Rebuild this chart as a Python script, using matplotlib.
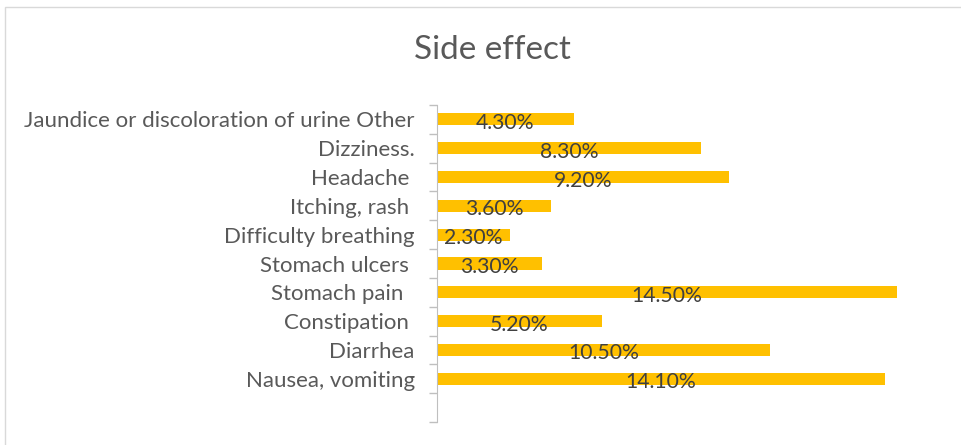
import matplotlib.pyplot as plt
from matplotlib.patches import Rectangle

plt.rcParams['font.family'] = ['Lato', 'DejaVu Sans']

# bottom to top
effects = ['Nausea, vomiting', 'Diarrhea', 'Constipation ', 'Stomach pain  ',
           'Stomach ulcers ', 'Difficulty breathing', 'Itching, rash ',
           'Headache ', 'Dizziness.', 'Jaundice or discoloration of urine Other']
percent = [14.1, 10.5, 5.2, 14.5, 3.3, 2.3, 3.6, 9.2, 8.3, 4.3]
labels = ['14.10%', '10.50%', '5.20%', '14.50%', '3.30%', '2.30%', '3.60%',
          '9.20%', '8.30%', '4.30%']

fig = plt.figure(figsize=(9.62, 4.45), dpi=100)
fig.patches.append(Rectangle((5 / 962, -0.01), 1.0, 1 - 7 / 445 + 0.01,
                             transform=fig.transFigure, fill=False,
                             edgecolor='#D9D9D9', linewidth=1))

ax = fig.add_axes([437 / 962, 1 - 422 / 445, (945 - 437) / 962, (422 - 105) / 445])
ypos = list(range(1, len(effects) + 1))
ax.barh(ypos, percent, height=0.42, color='#FFC000')
for y, v, t in zip(ypos, percent, labels):
    ax.text(v / 2, y - 0.12, t, ha='center', va='center', fontsize=15.2,
            color='#404040')

ax.set_xlim(0, 16)
ax.set_ylim(-0.5, len(effects) + 0.5)
ax.set_yticks(ypos)
ax.set_yticklabels(effects, fontsize=16, color='#595959')
ax.tick_params(axis='y', which='major', length=0, pad=16)
ax.set_yticks([i - 0.5 for i in range(len(effects) + 2)], minor=True)
ax.tick_params(axis='y', which='minor', length=6, color='#BFBFBF', width=1)
ax.set_xticks([])
for s in ['top', 'right', 'bottom']:
    ax.spines[s].set_visible(False)
ax.spines['left'].set_color('#BFBFBF')

fig.text(492 / 962, 1 - 50 / 445, 'Side effect', ha='center', va='center',
         fontsize=24, color='#595959')

fig.savefig('out.png', dpi=100)
